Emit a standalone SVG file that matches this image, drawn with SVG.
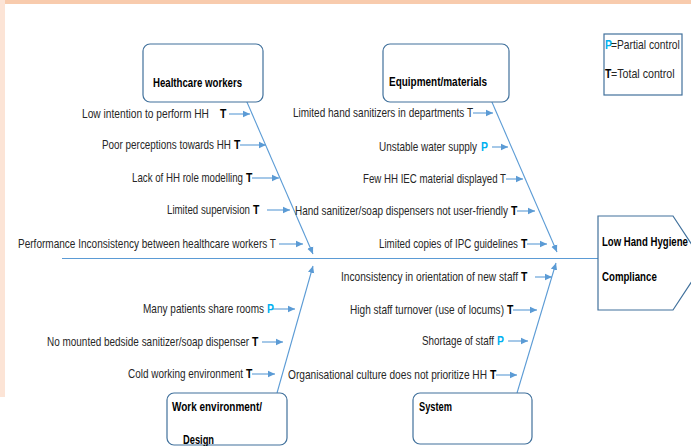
<svg xmlns="http://www.w3.org/2000/svg" width="691" height="446" viewBox="0 0 691 446">
<defs>
<marker id="ah" markerWidth="8" markerHeight="8" refX="7" refY="4" orient="auto" markerUnits="userSpaceOnUse">
<path d="M0,0.8 L7,4 L0,7.2 Z" fill="#5B9BD5"/>
</marker>
<style>
.bg1{fill:#F8CBAD}
.bg2{fill:#FCE4D6}
.box{fill:#FFFFFF;stroke:#41719C;stroke-width:1.2}
.ln{stroke:#5B9BD5;stroke-width:1.1;fill:none}
.ar{stroke:#5B9BD5;stroke-width:1.1;fill:none;marker-end:url(#ah)}
.lb{font-family:"Liberation Sans",Arial,sans-serif;font-size:13px;fill:#262626}
.bx{font-family:"Liberation Sans",Arial,sans-serif;font-size:13px;font-weight:bold;fill:#000000}
.b{font-family:"Liberation Sans",Arial,sans-serif;font-size:13px;font-weight:bold;fill:#000000}
.p{font-family:"Liberation Sans",Arial,sans-serif;font-size:13px;font-weight:bold;fill:#00B0F0}
</style>
</defs>
<rect class="bg2" x="0" y="0" width="5" height="397"/>
<rect class="bg1" x="5" y="0" width="686" height="4"/>

<g id="connectors">
<line class="ln" x1="62" y1="258.5" x2="598" y2="258.5"/>
<line class="ar" x1="243" y1="93" x2="313" y2="254"/>
<line class="ar" x1="488" y1="93" x2="557" y2="252"/>
<line class="ar" x1="277" y1="393" x2="313" y2="266"/>
<line class="ar" x1="517" y1="393" x2="556" y2="263"/>
<line class="ar" x1="229" y1="114" x2="250" y2="114"/>
<line class="ar" x1="240" y1="145" x2="266" y2="145"/>
<line class="ar" x1="252" y1="178" x2="279" y2="178"/>
<line class="ar" x1="267" y1="210" x2="290" y2="210"/>
<line class="ar" x1="279" y1="244" x2="303" y2="244"/>
<line class="ar" x1="473" y1="113" x2="493" y2="113"/>
<line class="ar" x1="492" y1="147" x2="508" y2="147"/>
<line class="ar" x1="506" y1="179" x2="523" y2="179"/>
<line class="ar" x1="517" y1="211" x2="535" y2="211"/>
<line class="ar" x1="527" y1="244" x2="547" y2="244"/>
<line class="ar" x1="273" y1="309" x2="295" y2="309"/>
<line class="ar" x1="262" y1="342" x2="283" y2="342"/>
<line class="ar" x1="252" y1="374" x2="275" y2="374"/>
<line class="ar" x1="535" y1="277" x2="552" y2="277"/>
<line class="ar" x1="513" y1="310" x2="537" y2="310"/>
<line class="ar" x1="508" y1="341" x2="528" y2="341"/>
<line class="ar" x1="496" y1="375" x2="517" y2="375"/>
</g>

<g id="node-healthcare">
<rect class="box" x="143" y="44" width="120" height="58" rx="7"/>
<text class="bx" x="153" y="87" textLength="89" lengthAdjust="spacingAndGlyphs">Healthcare workers</text>
</g>
<g id="node-equipment">
<rect class="box" x="383" y="44" width="126" height="58" rx="7"/>
<text class="bx" x="389" y="86" textLength="98" lengthAdjust="spacingAndGlyphs">Equipment/materials</text>
</g>
<g id="node-workenv">
<rect class="box" x="167" y="393" width="120" height="52" rx="7"/>
<text class="bx" x="172" y="411" textLength="90" lengthAdjust="spacingAndGlyphs">Work environment/</text>
<text class="bx" x="183" y="444" textLength="31" lengthAdjust="spacingAndGlyphs">Design</text>
</g>
<g id="node-system">
<rect class="box" x="413" y="393" width="119" height="51" rx="7"/>
<text class="bx" x="419" y="411" textLength="33" lengthAdjust="spacingAndGlyphs">System</text>
</g>
<g id="node-effect">
<polygon class="box" points="598,216 673,216 704,263 673,310 598,310"/>
<text class="bx" transform="translate(602,246) scale(0.74,1)" x="0" y="0" textLength="116" lengthAdjust="spacingAndGlyphs">Low Hand Hygiene</text>
<text class="bx" transform="translate(602,281) scale(0.74,1)" x="0" y="0" textLength="74" lengthAdjust="spacingAndGlyphs">Compliance</text>
</g>
<g id="legend">
<rect x="604" y="34" width="78" height="61" fill="#FFFFFF" stroke="#41719C" stroke-width="1.2"/>
<text class="p" transform="translate(605,49) scale(0.8,1)">P</text>
<text class="lb" transform="translate(611,49) scale(0.74,1)" x="0" y="0" textLength="93" lengthAdjust="spacingAndGlyphs">=Partial control</text>
<text class="b" transform="translate(605,78) scale(0.8,1)">T</text>
<text class="lb" transform="translate(611,78) scale(0.74,1)" x="0" y="0" textLength="86" lengthAdjust="spacingAndGlyphs">=Total control</text>
</g>

<g id="causes-healthcare">
<text class="lb" transform="translate(82,118) scale(0.8,1)" textLength="158.75" lengthAdjust="spacingAndGlyphs">Low intention to perform HH</text>
<text class="b" transform="translate(220,118) scale(0.8,1)">T</text>
<text class="lb" transform="translate(102,149) scale(0.8,1)" textLength="161.25" lengthAdjust="spacingAndGlyphs">Poor perceptions towards HH</text>
<text class="b" transform="translate(234,149) scale(0.8,1)">T</text>
<text class="lb" transform="translate(132,182) scale(0.8,1)" textLength="138.75" lengthAdjust="spacingAndGlyphs">Lack of HH role modelling</text>
<text class="b" transform="translate(246,182) scale(0.8,1)">T</text>
<text class="lb" transform="translate(167,214) scale(0.8,1)" textLength="103.75" lengthAdjust="spacingAndGlyphs">Limited supervision</text>
<text class="b" transform="translate(253,214) scale(0.8,1)">T</text>
<text class="lb" transform="translate(18,248) scale(0.8,1)" textLength="322.5" lengthAdjust="spacingAndGlyphs">Performance Inconsistency between healthcare workers T</text>
</g>
<g id="causes-equipment">
<text class="lb" transform="translate(293,117) scale(0.8,1)" textLength="225" lengthAdjust="spacingAndGlyphs">Limited hand sanitizers in departments T</text>
<text class="lb" transform="translate(379,151) scale(0.8,1)" textLength="122.5" lengthAdjust="spacingAndGlyphs">Unstable water supply</text>
<text class="p" transform="translate(481,151) scale(0.8,1)">P</text>
<text class="lb" transform="translate(363,183) scale(0.8,1)" textLength="178.75" lengthAdjust="spacingAndGlyphs">Few HH IEC material displayed T</text>
<text class="lb" transform="translate(295,215) scale(0.8,1)" textLength="266.25" lengthAdjust="spacingAndGlyphs">Hand sanitizer/soap dispensers not user-friendly</text>
<text class="b" transform="translate(511,215) scale(0.8,1)">T</text>
<text class="lb" transform="translate(379,248) scale(0.8,1)" textLength="173.75" lengthAdjust="spacingAndGlyphs">Limited copies of IPC guidelines</text>
<text class="b" transform="translate(521,248) scale(0.8,1)">T</text>
</g>
<g id="causes-workenv">
<text class="lb" transform="translate(143,313) scale(0.8,1)" textLength="151.25" lengthAdjust="spacingAndGlyphs">Many patients share rooms</text>
<text class="p" transform="translate(267,313) scale(0.8,1)">P</text>
<text class="lb" transform="translate(47,346) scale(0.8,1)" textLength="252.5" lengthAdjust="spacingAndGlyphs">No mounted bedside sanitizer/soap dispenser</text>
<text class="b" transform="translate(252,346) scale(0.8,1)">T</text>
<text class="lb" transform="translate(128,378) scale(0.8,1)" textLength="143.75" lengthAdjust="spacingAndGlyphs">Cold working environment</text>
<text class="b" transform="translate(246,378) scale(0.8,1)">T</text>
</g>
<g id="causes-system">
<text class="lb" transform="translate(341,281) scale(0.8,1)" textLength="221.25" lengthAdjust="spacingAndGlyphs">Inconsistency in orientation of new staff</text>
<text class="b" transform="translate(521,281) scale(0.8,1)">T</text>
<text class="lb" transform="translate(350,314) scale(0.8,1)" textLength="192.5" lengthAdjust="spacingAndGlyphs">High staff turnover (use of locums)</text>
<text class="b" transform="translate(507,314) scale(0.8,1)">T</text>
<text class="lb" transform="translate(422,345) scale(0.8,1)" textLength="90" lengthAdjust="spacingAndGlyphs">Shortage of staff</text>
<text class="p" transform="translate(497,345) scale(0.8,1)">P</text>
<text class="lb" transform="translate(288,379) scale(0.8,1)" textLength="248.75" lengthAdjust="spacingAndGlyphs">Organisational culture does not prioritize HH</text>
<text class="b" transform="translate(490,379) scale(0.8,1)">T</text>
</g>
</svg>
